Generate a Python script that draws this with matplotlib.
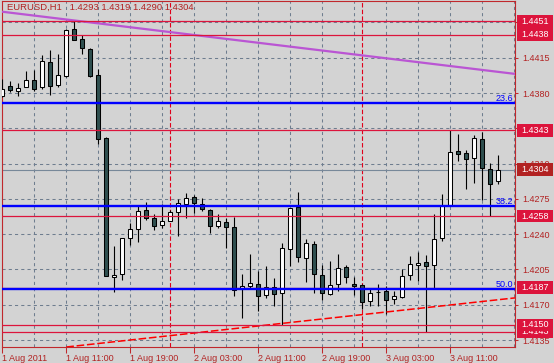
import matplotlib.pyplot as plt
import matplotlib.transforms as mtransforms
from matplotlib.patches import Rectangle

plt.rcParams['font.family'] = ['Liberation Sans', 'DejaVu Sans']

# EURUSD H1 bars, 1 Aug 2011 03:00 .. 3 Aug 2011 17:00
opens = [1.4377, 1.4387, 1.4382, 1.4386, 1.4393, 1.4386, 1.4411, 1.4388, 1.4397, 1.4444,
         1.4434, 1.4424, 1.4398, 1.4335, 1.4198, 1.4201, 1.4236, 1.4245, 1.4264, 1.4256,
         1.4249, 1.4253, 1.4262, 1.4270, 1.4277, 1.4270, 1.4264, 1.4248, 1.4252, 1.4247,
         1.4186, 1.4189, 1.4191, 1.4180, 1.4188, 1.4182, 1.4225, 1.4267, 1.4216, 1.4230,
         1.4200, 1.4181, 1.4191, 1.4207, 1.4191, 1.4190, 1.4174, 1.4183, 1.4184, 1.4176,
         1.4178, 1.4200, 1.4209, 1.4212, 1.4209, 1.4236, 1.4269, 1.4323, 1.4321, 1.4316,
         1.4334, 1.4305, 1.4293]
highs = [1.4394, 1.4392, 1.4390, 1.4402, 1.4403, 1.4418, 1.4423, 1.4419, 1.4444, 1.4451,
         1.4438, 1.4425, 1.4404, 1.4336, 1.4228, 1.4236, 1.4251, 1.4268, 1.4272, 1.4260,
         1.4270, 1.4264, 1.4275, 1.4281, 1.4279, 1.4276, 1.4265, 1.4260, 1.4256, 1.4257,
         1.4201, 1.4220, 1.4203, 1.4208, 1.4197, 1.4231, 1.4266, 1.4282, 1.4235, 1.4233,
         1.4209, 1.4213, 1.4220, 1.4209, 1.4198, 1.4191, 1.4186, 1.4191, 1.4189, 1.4184,
         1.4205, 1.4218, 1.4222, 1.4219, 1.4260, 1.4280, 1.4343, 1.4339, 1.4324, 1.4338,
         1.4341, 1.4311, 1.4319]
lows = [1.4376, 1.4381, 1.4377, 1.4386, 1.4382, 1.4384, 1.4378, 1.4386, 1.4396, 1.4433,
        1.4419, 1.4396, 1.4329, 1.4199, 1.4183, 1.4195, 1.4229, 1.4232, 1.4254, 1.4244,
        1.4246, 1.4253, 1.4238, 1.4256, 1.4261, 1.4263, 1.4241, 1.4246, 1.4226, 1.4179,
        1.4157, 1.4186, 1.4164, 1.4177, 1.4169, 1.4150, 1.4208, 1.4212, 1.4193, 1.4182,
        1.4175, 1.4180, 1.4184, 1.4192, 1.4180, 1.4166, 1.4169, 1.4169, 1.4161, 1.4171,
        1.4177, 1.4195, 1.4194, 1.4143, 1.4187, 1.4233, 1.4268, 1.4313, 1.4285, 1.4291,
        1.4274, 1.4258, 1.4290]
closes = [1.4384, 1.4383, 1.4385, 1.4393, 1.4384, 1.4412, 1.4387, 1.4398, 1.4443, 1.4433,
          1.4425, 1.4397, 1.4334, 1.4199, 1.4200, 1.4236, 1.4245, 1.4263, 1.4256, 1.4248,
          1.4253, 1.4262, 1.4271, 1.4276, 1.4271, 1.4265, 1.4248, 1.4253, 1.4247, 1.4185,
          1.4189, 1.4192, 1.4179, 1.4188, 1.4181, 1.4226, 1.4266, 1.4217, 1.4231, 1.4201,
          1.4182, 1.4190, 1.4206, 1.4198, 1.4189, 1.4173, 1.4182, 1.4183, 1.4175, 1.4179,
          1.4199, 1.4210, 1.4211, 1.4208, 1.4235, 1.4268, 1.4322, 1.4320, 1.4315, 1.4335,
          1.4306, 1.4290, 1.4304]

time_labels = ['1 Aug 2011', '1 Aug 11:00', '1 Aug 19:00', '2 Aug 03:00',
               '2 Aug 11:00', '2 Aug 19:00', '3 Aug 03:00', '3 Aug 11:00']
day_breaks = [21, 45]
price_ticks = [1.4135, 1.4170, 1.4205, 1.4240, 1.4275, 1.4310, 1.4345, 1.4380, 1.4415, 1.4450]
hidden_ticks = [1.4345, 1.4450]   # fully under the level boxes

# drawn bottom to top, as the terminal stacks them
level_prices = [1.4143, 1.4150, 1.4187, 1.4258, 1.4343, 1.4438, 1.4451]
bid_price = 1.4304
fib_names = ['23.6', '38.2', '50.0']
fib_prices = [1.4370, 1.4268, 1.4186]
trend_bars = [9, 62]
trend_prices = [1.4452, 1.4401]
support_bars = [24, 62]
support_prices = [1.4142, 1.4175]

bg = '#d3d3d3'
axis_red = '#c0282c'
txt_red = '#b22222'
grid_col = '#6e7d8f'

W, H = 554, 363
fig = plt.figure(figsize=(W / 100, H / 100), dpi=100, facecolor=bg)
ax = fig.add_axes([2 / W, 16 / H, 513 / W, 346.5 / H])
ax.set_facecolor(bg)
ax.set_xlim(-0.04, 64.09)
ax.set_ylim(1.41281, 1.44718)

# candles
n = len(opens)
for i in range(n):
    o, h, l, c = opens[i], highs[i], lows[i], closes[i]
    ax.vlines(i, l, h, color='black', lw=0.8, zorder=3)
    fc = 'white' if c >= o else '#2f4f4f'
    ax.add_patch(Rectangle((i - 0.25, min(o, c)), 0.5, abs(c - o),
                           facecolor=fc, edgecolor='black', lw=0.75, zorder=3.5))

# grid
ax.set_xticks(range(0, n, 8))
ax.set_xticks(range(0, 65, 4), minor=True)
ax.set_xticklabels(time_labels)
for lab in ax.get_xticklabels():
    lab.set_horizontalalignment('left')
ax.set_yticks(price_ticks)
ax.set_yticklabels(['' if p in hidden_ticks else '%.4f' % p for p in price_ticks])
ax.yaxis.tick_right()
ax.grid(True, which='both', axis='x', color=grid_col, lw=0.75, ls=(0, (3, 3)), zorder=1)
ax.grid(True, which='major', axis='y', color=grid_col, lw=0.75, ls=(0, (3, 3)), zorder=1)
ax.set_axisbelow(True)
ax.tick_params(axis='x', which='major', length=4, width=0.75, color=axis_red,
               labelcolor=txt_red, labelsize=6.5, pad=1)
ax.tick_params(axis='x', which='minor', length=0)
ax.tick_params(axis='y', length=2, width=0.75, color=axis_red,
               labelcolor=txt_red, labelsize=6.5, pad=3)
for s in ax.spines.values():
    s.set_color(axis_red)
    s.set_linewidth(0.8)

for d in day_breaks:
    ax.axvline(d, color='#e0001b', lw=0.8, ls=(0, (4, 2)), zorder=1.5)

ax.axhline(bid_price, color='#778899', lw=0.8, zorder=2)

# objects
ax.axline((trend_bars[0], trend_prices[0]), (trend_bars[1], trend_prices[1]),
          color='#ba55d3', lw=1.6, zorder=4)
ax.axline((support_bars[0], support_prices[0]), (support_bars[1], support_prices[1]),
          color='#ff0000', lw=1.1, ls=(0, (5, 1.8)), zorder=4)
for p in level_prices:
    ax.axhline(p, color='#dc143c', lw=0.9, zorder=4)

blend = mtransforms.blended_transform_factory(ax.transAxes, ax.transData)
for name, p in zip(fib_names, fib_prices):
    ax.axhline(p, color='#0000ff', lw=1.7, zorder=4.2)
    ax.text(1 - 2 / 513, p, name, transform=blend, ha='right', va='bottom',
            color='#0000ff', fontsize=6.5, zorder=5)

# price boxes on the scale
ypx = (1.44718 - 1.41281) / 346.5
boxes = [(q, '#dc143c') for q in level_prices] + [(bid_price, '#b22222')]
for j, (p, col) in enumerate(boxes):
    ax.add_patch(Rectangle((1 + 1.5 / 513, p - 6.3 * ypx), 36.5 / 513, 12.6 * ypx,
                           transform=blend, facecolor=col, edgecolor='none',
                           clip_on=False, zorder=6 + j * 0.1))
    ax.text(1 + 6 / 513, p, '%.4f' % p, transform=blend, ha='left', va='center',
            color='white', fontsize=6.5, clip_on=False, zorder=6.05 + j * 0.1)

ax.text(5 / 513, 1 - 2 / 346.5, 'EURUSD,H1   %.4f %.4f %.4f %.4f'
        % (opens[-1], highs[-1], lows[-1], closes[-1]),
        transform=ax.transAxes, ha='left', va='top', color=txt_red, fontsize=6.8, zorder=6)

fig.savefig('out.png', dpi=100, facecolor=bg)
